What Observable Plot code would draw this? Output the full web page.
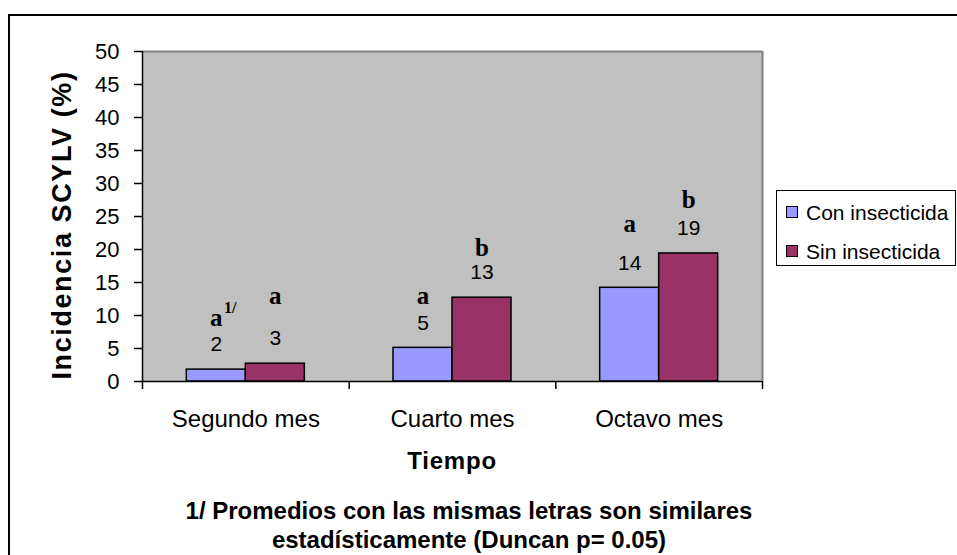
<!DOCTYPE html>
<html>
<head>
<meta charset="utf-8">
<script src="https://cdn.jsdelivr.net/npm/d3@7"></script>
<script src="https://cdn.jsdelivr.net/npm/@observablehq/plot@0.6"></script>
<style>
  html, body { margin: 0; padding: 0; background: #fff; }
  body { font-family: "Liberation Sans", Arial, sans-serif; color: #000; }
  #wrap { position: relative; width: 957px; height: 555px; overflow: hidden; background: #fff; }
  #chart { position: absolute; left: 0; top: 0; }
  #border { position: absolute; left: 8px; top: 14px; width: 1000px; height: 600px;
            border-left: 2px solid #000; border-top: 2px solid #000; pointer-events: none; }
  #ytitle { position: absolute; left: 62px; top: 225px; width: 0; height: 0; }
  #ytitle span { position: absolute; left: 0; top: 0; white-space: nowrap; font-weight: bold;
                 font-size: 27px; letter-spacing: 1.6px; line-height: 27px;
                 transform: translate(-50%, -50%) rotate(-90deg); }
  #xtitle { position: absolute; left: 452px; top: 449px; transform: translateX(-50%);
            font-weight: bold; font-size: 24px; letter-spacing: 0.8px; line-height: 24px; white-space: nowrap; }
  #note { position: absolute; left: 469px; top: 496px; transform: translateX(-50%);
          font-weight: bold; font-size: 24px; line-height: 29px; text-align: center; white-space: nowrap; }
  #legend { position: absolute; left: 776px; top: 190px; width: 180px; height: 76px;
            border: 1px solid #000; background: #fff; box-sizing: border-box; }
  .lrow { position: absolute; left: 0; height: 21px; }
  .lsw { position: absolute; left: 9px; top: 4px; width: 12px; height: 12px; border: 1px solid #000; box-sizing: border-box; }
  .ltx { position: absolute; left: 29px; top: 0; font-size: 21px; line-height: 21px; white-space: nowrap; }
</style>
</head>
<body>
<div id="wrap">
  <div id="chart"></div>
  <div id="ytitle"><span></span></div>
  <div id="xtitle"></div>
  <div id="note"></div>
  <div id="legend"></div>
  <div id="border"></div>
</div>
<script>
// ---- data ----
const categories = ["Segundo mes", "Cuarto mes", "Octavo mes"];
const series = ["Con insecticida", "Sin insecticida"];
const conValues = [1.8, 5.1, 14.2];
const sinValues = [2.7, 12.7, 19.4];
const conLetters = ["a", "a", "a"];
const sinLetters = ["a", "b", "b"];
const conLetterY = [9.6, 13.0, 23.9];
const sinLetterY = [13.0, 20.3, 27.5];
const yTicks = [0, 5, 10, 15, 20, 25, 30, 35, 40, 45, 50];
const seriesColors = ["#9999FF", "#993366"];
const yTitle = "Incidencia SCYLV (%)";
const xTitle = "Tiempo";
const noteLines = ["1/ Promedios con las mismas letras son similares", "estadísticamente (Duncan p= 0.05)"];
const footRef = "1/";

// ---- table ----
const barW = 0.2855; // bar width as a fraction of a category band
const valuesBySeries = [conValues, sinValues];
const lettersBySeries = [conLetters, sinLetters];
const letterYBySeries = [conLetterY, sinLetterY];
const rows = [];
categories.forEach((cat, ci) => {
  series.forEach((s, si) => {
    const x1 = ci + 0.5 + (si - 1) * barW;
    rows.push({
      category: cat, series: s, value: valuesBySeries[si][ci],
      x1, x2: x1 + barW, xc: x1 + barW / 2,
      letter: lettersBySeries[si][ci], letterY: letterYBySeries[si][ci]
    });
  });
});

const serif = "Liberation Serif, Times New Roman, serif";
const chart = Plot.plot({
  width: 957,
  height: 555,
  marginTop: 51,
  marginLeft: 142,
  marginRight: 195,
  marginBottom: 174,
  style: { fontFamily: "Liberation Sans, Arial, sans-serif", color: "#000", background: "transparent" },
  x: { domain: [0, categories.length] },
  y: { domain: [0, 50] },
  color: { domain: series, range: seriesColors },
  marks: [
    Plot.frame({ fill: "#C0C0C0", stroke: "none" }),
    Plot.ruleY([50], { stroke: "#808080", strokeWidth: 2 }),
    Plot.ruleX([categories.length], { stroke: "#808080", strokeWidth: 2 }),
    Plot.rect(rows, { x1: "x1", x2: "x2", y1: 0, y2: "value", fill: "series", stroke: "#000", strokeWidth: 1.5 }),
    Plot.ruleY([0], { stroke: "#000", strokeWidth: 1.5 }),
    Plot.ruleX([0], { stroke: "#000", strokeWidth: 1.5 }),
    Plot.axisY({ ticks: yTicks, tickSize: 8, tickPadding: 15, fontSize: 22, label: null, tickFormat: d => String(d), strokeWidth: 1.5 }),
    Plot.axisX({ ticks: d3.range(categories.length + 1), tickSize: 8, tickFormat: () => "", label: null, strokeWidth: 1.5 }),
    Plot.axisX({ ticks: categories.map((c, i) => i + 0.5), tickSize: 0, tickPadding: 28, fontSize: 24,
                 tickFormat: d => categories[Math.floor(d)], label: null }),
    Plot.text(rows, { x: "xc", y: "value", text: d => d3.format(".0f")(d.value), dy: -25, fontSize: 21, fill: "#000" }),
    Plot.text(rows, { x: "xc", y: "letterY", text: "letter", fontFamily: serif,
                      fontWeight: "bold", fontSize: 25, fill: "#000" }),
    Plot.text(rows.slice(0, 1), { x: "xc", y: "letterY", text: () => footRef, dx: 14, dy: -10,
                      fontFamily: serif, fontWeight: "bold", fontSize: 16, fill: "#000" })
  ]
});
document.getElementById("chart").appendChild(chart);

document.querySelector("#ytitle span").textContent = yTitle;
document.getElementById("xtitle").textContent = xTitle;
document.getElementById("note").innerHTML = noteLines.map(l => l.replace(/&/g, "&amp;")).join("<br>");

const legend = document.getElementById("legend");
const rowCenters = [21.7, 60];
series.forEach((s, i) => {
  const r = document.createElement("div");
  r.className = "lrow";
  r.style.top = (rowCenters[i] - 10.5) + "px";
  const sw = document.createElement("div");
  sw.className = "lsw";
  sw.style.background = seriesColors[i];
  const tx = document.createElement("div");
  tx.className = "ltx";
  tx.textContent = s;
  r.appendChild(sw); r.appendChild(tx);
  legend.appendChild(r);
});
</script>
</body>
</html>
